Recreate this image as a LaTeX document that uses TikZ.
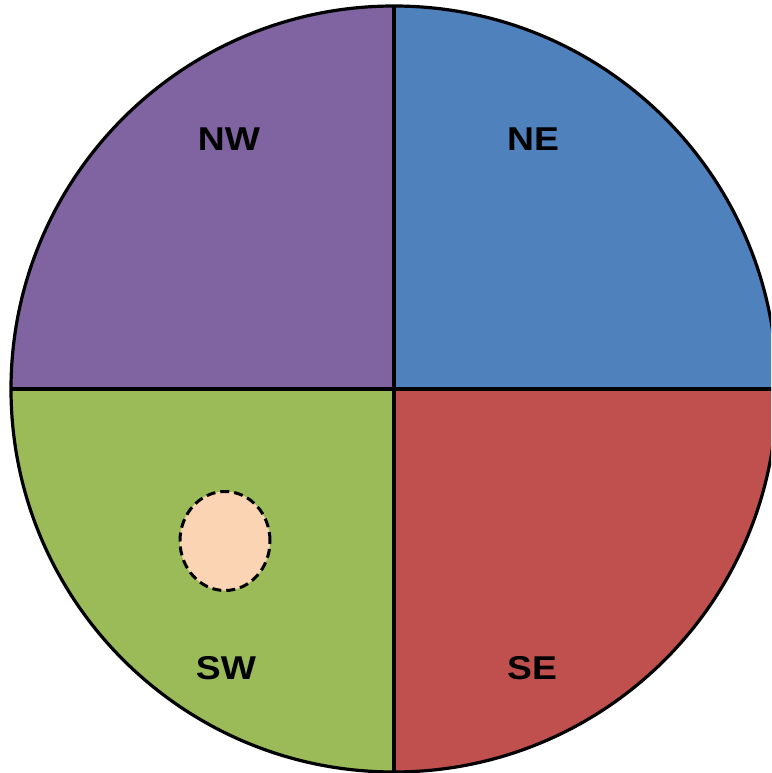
\documentclass[tikz,border=0pt]{standalone}
\usepackage{fontspec}
\setmainfont{Liberation Sans}
\usetikzlibrary{shapes.geometric}
\definecolor{cNW}{HTML}{8064A2}
\definecolor{cNE}{HTML}{4F81BD}
\definecolor{cSW}{HTML}{9BBB59}
\definecolor{cSE}{HTML}{C0504D}
\definecolor{cPeach}{HTML}{FBD4B4}
\begin{document}
\begin{tikzpicture}[x=1pt,y=-1pt,
  quad/.style={draw=black,line width=3.2pt},
  lbl/.style={font=\fontsize{33}{38}\selectfont\bfseries,text=black,xscale=1.13,inner sep=0pt}]
\useasboundingbox (0,0) rectangle (771,773);
\clip (0,0) rectangle (771,773);
\coordinate (c) at (394,389);
\def\R{383}
\fill[cNW] (c) -- (394-\R,389) arc[start angle=180,end angle=90,x radius=\R,y radius=-\R] -- cycle;
\fill[cNE] (c) -- (394,389-\R) arc[start angle=90,end angle=0,x radius=\R,y radius=-\R] -- cycle;
\fill[cSE] (c) -- (394+\R,389) arc[start angle=0,end angle=-90,x radius=\R,y radius=-\R] -- cycle;
\fill[cSW] (c) -- (394,389+\R) arc[start angle=-90,end angle=-180,x radius=\R,y radius=-\R] -- cycle;
\draw[quad] (394-\R,389) -- (394+\R,389);
\draw[quad] (394,389-\R) -- (394,389+\R);
\draw[line width=3.2pt] (c) circle[radius=\R];
\node[ellipse,draw=black,fill=cPeach,line width=3pt,dash pattern=on 9pt off 5pt,minimum width=90pt,minimum height=99pt,inner sep=0pt] (hole) at (225,541) {};
\node[lbl] (nw) at (229,139.5) {NW};
\node[lbl] (ne) at (533,139.5) {NE};
\node[lbl] (sw) at (226,668) {SW};
\node[lbl] (se) at (532,668) {SE};
\end{tikzpicture}
\end{document}
